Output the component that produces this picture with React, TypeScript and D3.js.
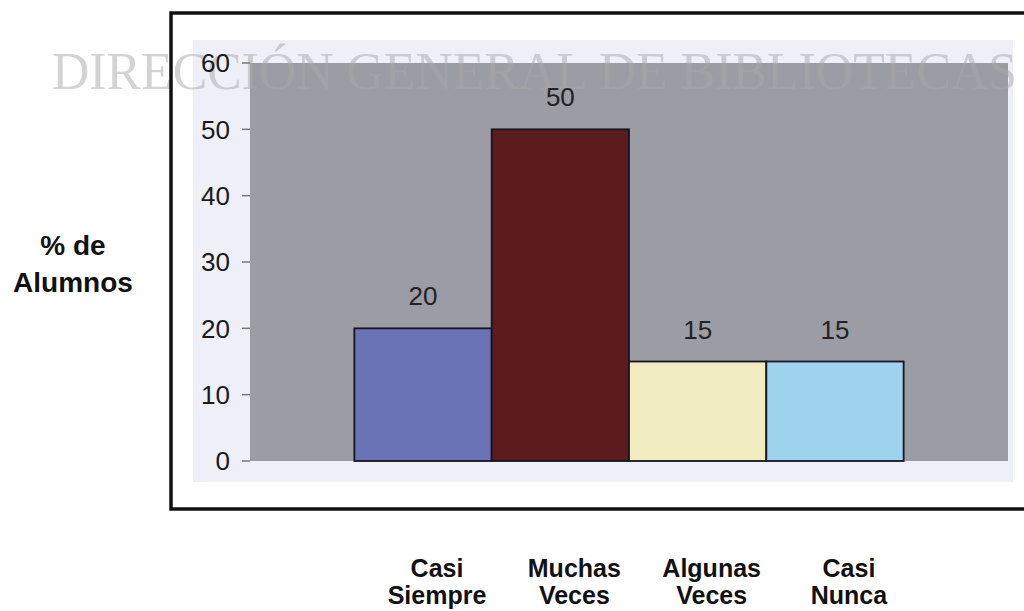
import React from "react";
import * as d3 from "d3";

const categories = ["Casi Siempre", "Muchas Veces", "Algunas Veces", "Casi Nunca"];
const values = [20, 50, 15, 15];
const barColors = ["#6a73b6", "#5c1c1e", "#f1ebc0", "#9ed3ee"];
const yTicks = [0, 10, 20, 30, 40, 50, 60];
const yLabelLines = ["% de", "Alumnos"];
const watermark = "DIRECCIÓN GENERAL DE BIBLIOTECAS";

const W = 1024;
const H = 611;
const plot = { left: 250, right: 1008, top: 63, bottom: 461 };

const App: React.FC = () => {
  const x = d3
    .scaleBand<string>()
    .domain(categories)
    .range([plot.left, plot.right])
    .paddingInner(0)
    .paddingOuter(0.76);

  const y = d3.scaleLinear().domain([0, 60]).range([plot.bottom, plot.top]);

  const font = "Arial, 'Liberation Sans', Helvetica, sans-serif";
  const labelX = (c: string) => x(c)! + x.bandwidth() / 2 + 14;

  return (
    <svg
      width={W}
      height={H}
      style={{ position: "absolute", left: 0, top: 0, background: "#fff" }}
    >
      {/* pale band behind the plot */}
      <rect x={193} y={40} width={820} height={442} fill="#efeff8" />

      {/* plot background */}
      <rect
        x={plot.left}
        y={plot.top}
        width={plot.right - plot.left}
        height={plot.bottom - plot.top}
        fill="#9c9ca4"
      />

      {/* watermark of the scanned page */}
      <text
        x={52}
        y={89}
        textLength={965}
        lengthAdjust="spacingAndGlyphs"
        fontFamily="'Liberation Serif', 'Times New Roman', serif"
        fontSize={53}
        fill="#a8a8a8"
        fillOpacity={0.5}
      >
        {watermark}
      </text>

      {/* outer frame */}
      <path d={`M1030,13 H171 V509 H1030`} fill="none" stroke="#111" strokeWidth={3.5} />

      {/* y axis ticks and labels */}
      {yTicks.map((t) => (
        <g key={t} transform={`translate(0,${y(t)})`}>
          <line x1={242} x2={plot.left} stroke="#777" strokeWidth={1.5} />
          <text
            x={230}
            dy="0.36em"
            textAnchor="end"
            fontFamily={font}
            fontSize={26}
            fill="#1a1a1a"
          >
            {t}
          </text>
        </g>
      ))}

      {/* bars */}
      {categories.map((c, i) => (
        <rect
          key={c}
          x={x(c)!}
          y={y(values[i])}
          width={x.bandwidth()}
          height={y(0) - y(values[i])}
          fill={barColors[i]}
          stroke="#161620"
          strokeWidth={1.8}
        />
      ))}

      {/* value labels */}
      {categories.map((c, i) => (
        <text
          key={c}
          x={x(c)! + x.bandwidth() / 2}
          y={y(values[i]) - 23}
          textAnchor="middle"
          fontFamily={font}
          fontSize={26}
          fill="#222"
        >
          {values[i]}
        </text>
      ))}

      {/* category labels */}
      {categories.map((c) => (
        <text
          key={c}
          y={577}
          textAnchor="middle"
          fontFamily={font}
          fontWeight="bold"
          fontSize={25}
          fill="#111"
        >
          {c.split(" ").map((w, k) => (
            <tspan key={k} x={labelX(c)} dy={k === 0 ? 0 : 27}>
              {w}
            </tspan>
          ))}
        </text>
      ))}

      {/* y axis title */}
      <text
        y={255}
        textAnchor="middle"
        fontFamily={font}
        fontWeight="bold"
        fontSize={28}
        fill="#111"
      >
        {yLabelLines.map((l, k) => (
          <tspan key={k} x={73} dy={k === 0 ? 0 : 37}>
            {l}
          </tspan>
        ))}
      </text>
    </svg>
  );
};

export default App;
